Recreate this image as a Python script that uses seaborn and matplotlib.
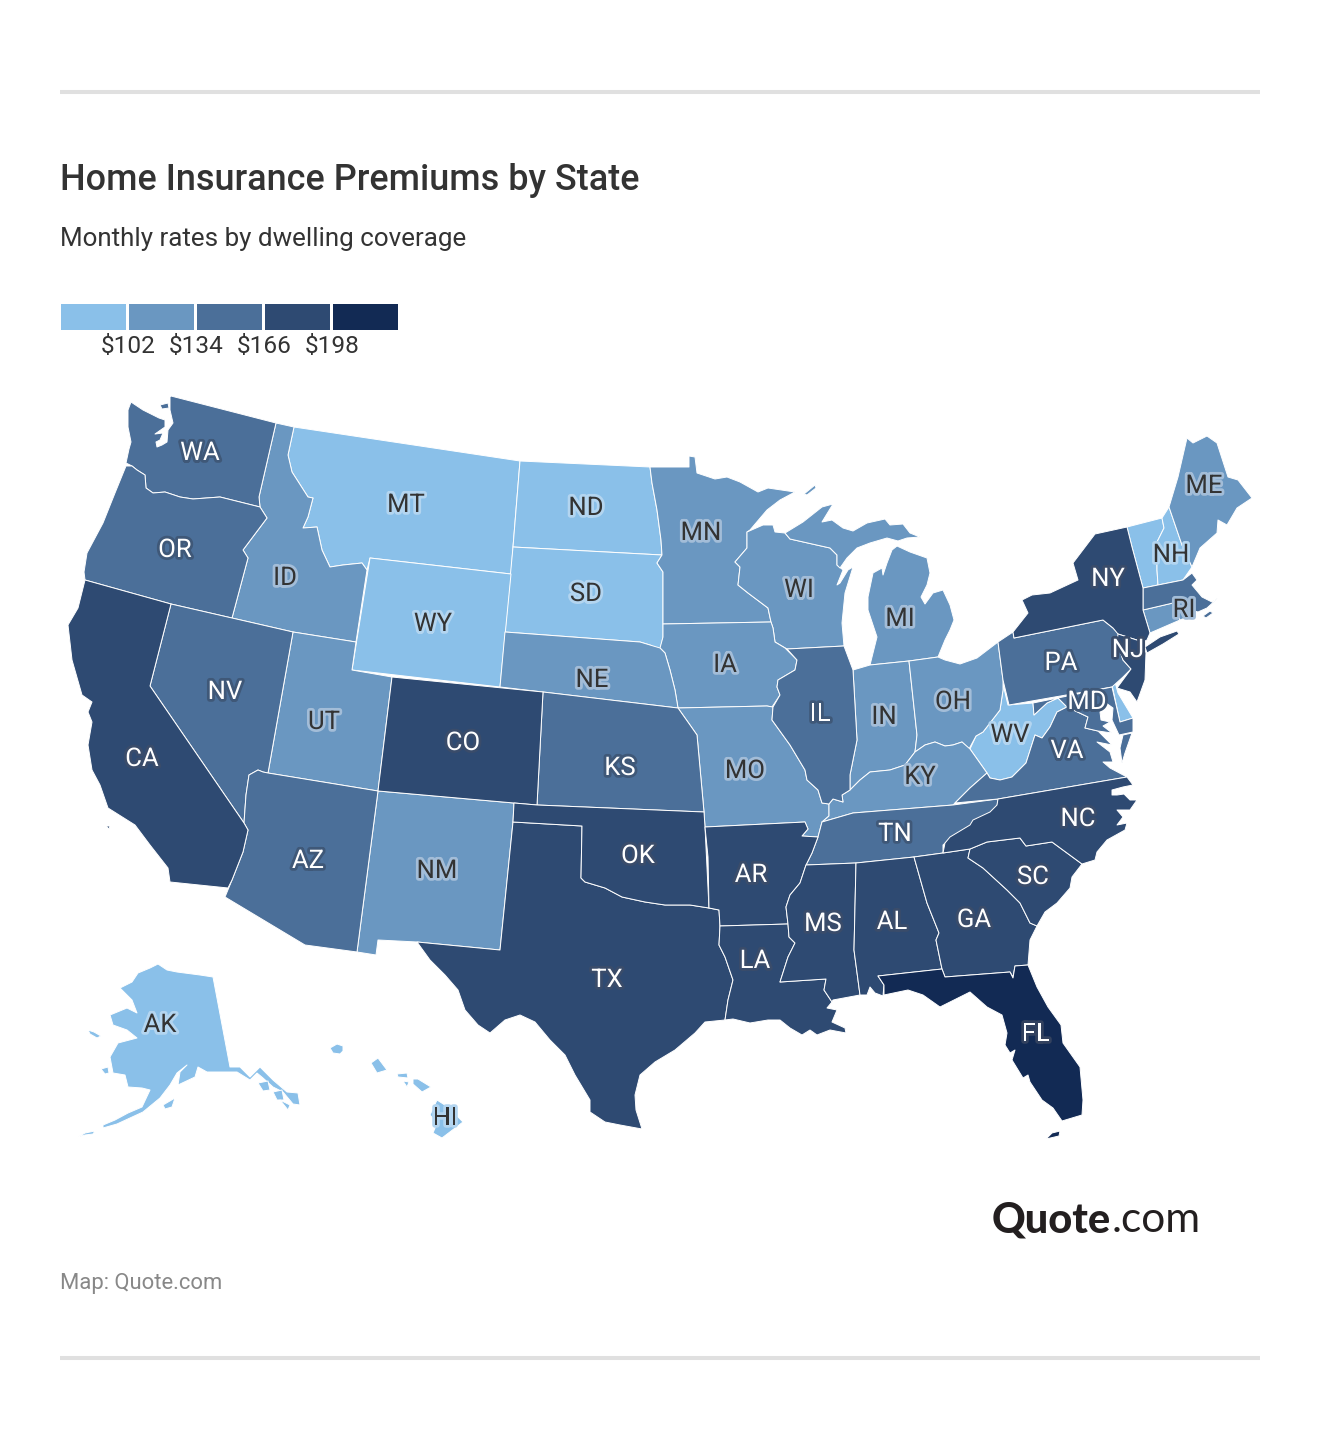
"""Home insurance premiums by state, drawn as a binned choropleth."""
import matplotlib
matplotlib.use("Agg")
import matplotlib.patheffects as pe
import matplotlib.pyplot as plt
import numpy as np
import seaborn as sns

TICK_LABELS = ["$102", "$134", "$166", "$198"]
BIN_COLORS = ["#8ac0e9", "#6a97c1", "#4b6f99", "#2e4a72", "#122a54"]

# premium bin per state, 0 is the cheapest
BIN_0 = ["MT", "ND", "SD", "WY", "VT", "NH", "WV", "DE", "AK", "HI"]
BIN_1 = ["ID", "MN", "WI", "MI", "IA", "NE", "MO", "IN", "OH", "KY", "UT", "NM", "ME", "CT", "RI"]
BIN_2 = ["WA", "OR", "NV", "AZ", "KS", "IL", "TN", "VA", "PA", "MA", "MD"]
BIN_3 = ["CA", "CO", "TX", "OK", "AR", "LA", "MS", "AL", "GA", "SC", "NC", "NY", "NJ"]
BIN_4 = ["FL"]

# state outlines
WA = [[(171,396),(276,423),(259,497),(260,507),(220,497),(193,499),(180,497),(165,492),(153,493),(146,488),(145,475),(137,470),(132,466),(126,463),(129,449),(131,442),(128,427),(128,410),(131,402),(143,410),(159,418),(165,420),(165,427),(155,434),(163,433),(160,440),(156,442),(157,447),(162,445),(167,442),(168,430),(173,423),(170,410),(170,397)],
      [(160,405),(168,403),(169,408),(162,409)]]
OR = [[(126,466),(132,466),(137,470),(145,475),(146,488),(153,493),(165,492),(180,497),(193,499),(220,497),(260,507),(267,518),(243,550),(248,558),(232,618),(171,604),(85,580),(84,572),(87,553),(103,523),(115,493)]]
CA = [[(85,580),(171,604),(150,686),(244,823),(248,830),(243,852),(232,880),(228,888),(170,882),(168,868),(150,845),(135,825),(108,808),(100,785),(92,770),(88,745),(92,722),(88,712),(92,702),(82,695),(72,660),(68,625),(78,608)],
      [(106,826),(110,826),(109,829)]]
NV = [[(171,604),(232,618),(293,632),(268,773),(263,772),(258,770),(249,775),(246,795),(244,823),(150,686)]]
AZ = [[(263,772),(268,773),(378,791),(357,952),(305,945),(225,897),(232,880),(243,852),(248,830),(244,823),(246,795),(249,775),(258,770)]]
UT = [[(293,632),(356,642),(352,670),(392,677),(378,791),(268,773)]]
ID = [[(276,423),(294,427),(288,455),(292,472),(308,497),(313,498),(308,517),(303,528),(317,527),(322,550),(330,567),(343,565),(362,563),(367,570),(356,642),(293,632),(232,618),(248,558),(243,550),(267,518),(260,507),(259,497)]]
MT = [[(294,427),(520,461),(513,547),(511,574),(370,558),(367,570),(362,563),(343,565),(330,567),(322,550),(317,527),(303,528),(308,517),(313,498),(308,497),(292,472),(288,455)]]
WY = [[(370,558),(511,574),(500,687),(352,670)]]
ND = [[(520,461),(650,467),(652,483),(657,510),(661,540),(662,555),(513,547)]]
SD = [[(513,547),(662,555),(657,563),(663,572),(663,624),(663,637),(660,650),(650,645),(640,642),(505,632)]]
NE = [[(505,632),(640,642),(650,645),(660,648),(665,653),(670,670),(675,690),(678,708),(543,692),(500,687)]]
KS = [[(543,692),(678,708),(690,725),(697,735),(704,812),(537,805)]]
CO = [[(392,677),(543,692),(537,805),(514,803),(378,791)]]
NM = [[(378,791),(514,803),(513,822),(500,950),(417,942),(378,940),(376,955),(357,952)]]
OK = [[(514,803),(537,805),(704,812),(705,827),(709,908),(690,905),(665,905),(645,902),(622,897),(605,888),(585,882),(581,878),(582,826),(513,822)]]
TX = [[(513,822),(582,826),(581,878),(585,882),(605,888),(622,897),(645,902),(665,905),(690,905),(709,908),(719,910),(720,926),(719,945),(725,957),(733,980),(728,1000),(725,1020),(705,1022),(695,1033),(675,1050),(655,1062),(640,1075),(635,1095),(636,1110),(642,1129),(620,1125),(605,1122),(590,1112),(590,1100),(575,1075),(565,1055),(550,1040),(535,1022),(520,1015),(505,1020),(490,1033),(478,1025),(465,1010),(458,990),(445,975),(430,960),(417,942),(500,950)]]
AR = [[(705,827),(805,822),(808,829),(802,836),(818,837),(812,853),(806,865),(800,883),(790,895),(786,907),(788,924),(720,926),(719,910),(709,908),(708,857)]]
LA = [[(720,926),(788,924),(789,937),(795,943),(788,957),(780,982),(826,979),(824,990),(832,1002),(827,1008),(837,1010),(832,1022),(845,1028),(846,1033),(830,1030),(817,1035),(810,1030),(802,1035),(790,1028),(780,1020),(768,1020),(750,1023),(733,1019),(725,1020),(728,1000),(733,980),(725,957),(719,945)]]
MS = [[(806,865),(856,863),(854,950),(860,995),(833,1000),(832,1002),(824,990),(826,979),(780,982),(788,957),(795,943),(789,937),(788,924),(786,907),(790,895),(800,883)]]
AL = [[(856,863),(914,857),(927,903),(939,933),(936,940),(942,969),(878,976),(884,985),(883,996),(875,993),(870,987),(867,995),(860,995),(854,950)]]
GA = [[(914,857),(943,853),(970,849),(968,858),(983,868),(1007,890),(1020,903),(1030,923),(1037,926),(1030,940),(1028,965),(1015,966),(1013,977),(1010,972),(945,977),(942,969),(936,940),(939,933),(927,903)]]
FL = [[(878,976),(942,969),(945,977),(1010,972),(1013,978),(1015,966),(1028,965),(1037,987),(1048,1007),(1061,1025),(1063,1043),(1080,1067),(1083,1100),(1082,1115),(1062,1121),(1053,1108),(1042,1100),(1030,1082),(1028,1075),(1023,1078),(1012,1060),(1015,1050),(1010,1053),(1005,1045),(1007,1033),(1002,1015),(987,1007),(970,992),(960,997),(940,1007),(923,995),(908,990),(884,995),(884,985)],
      [(1046,1139),(1052,1133),(1060,1131),(1059,1136)]]
SC = [[(970,849),(987,842),(1020,838),(1026,846),(1052,842),(1082,864),(1072,877),(1070,888),(1057,903),(1045,912),(1037,926),(1030,923),(1020,903),(1007,890),(983,868),(968,858)]]
NC = [[(998,799),(1127,777),(1133,785),(1123,787),(1112,790),(1112,795),(1117,795),(1124,794),(1130,800),(1137,800),(1130,810),(1117,810),(1123,817),(1117,825),(1127,823),(1125,830),(1107,840),(1097,852),(1095,860),(1082,864),(1052,842),(1026,846),(1020,838),(987,842),(970,849),(943,853),(945,843),(950,837),(970,825),(973,820),(990,812),(997,805)]]
TN = [[(822,822),(853,813),(953,805),(998,799),(997,807),(987,815),(972,825),(963,830),(952,837),(943,845),(943,853),(914,857),(856,863),(806,865),(812,853),(818,837)]]
KY = [[(822,822),(853,813),(953,805),(955,803),(970,788),(987,773),(970,749),(962,742),(953,745),(945,746),(935,742),(925,745),(915,752),(905,765),(890,770),(870,772),(860,780),(850,790),(842,795),(843,802),(833,799),(829,804),(829,816)]]
IN = [[(853,670),(870,665),(909,661),(917,735),(915,752),(905,765),(890,770),(870,772),(860,780),(850,790),(850,775),(857,740)]]
IL = [[(787,649),(844,646),(853,670),(857,740),(850,775),(850,790),(842,795),(843,802),(833,799),(829,804),(822,803),(818,790),(807,780),(805,770),(790,745),(772,720),(773,707),(780,695),(777,687),(778,680),(795,670),(797,660)]]
MO = [[(678,708),(767,706),(773,707),(772,720),(790,745),(805,770),(807,780),(818,790),(822,803),(829,804),(829,816),(822,822),(818,837),(802,836),(808,829),(805,822),(705,827),(704,812),(697,735),(690,725)]]
IA = [[(663,624),(771,622),(773,628),(775,642),(785,648),(797,660),(795,670),(778,680),(777,687),(780,695),(772,707),(767,706),(678,708),(675,690),(670,670),(665,653),(660,648),(663,637)]]
MN = [[(650,467),(689,467),(689,456),(695,457),(697,473),(715,479),(727,477),(740,482),(758,492),(768,488),(795,492),(780,500),(767,510),(750,530),(747,532),(747,548),(735,562),(740,567),(738,585),(748,593),(768,608),(771,622),(663,624),(663,572),(657,563),(662,555),(661,540),(657,510),(652,483)],
      [(804,494),(815,485),(816,488),(807,495)]]
WI = [[(747,532),(763,525),(773,525),(775,532),(785,533),(790,539),(830,548),(837,555),(837,565),(843,570),(837,585),(840,583),(848,570),(853,567),(845,593),(842,623),(844,646),(787,649),(775,642),(773,628),(771,622),(768,608),(748,593),(738,585),(740,567),(735,562),(747,548)]]
MI = [[(785,533),(803,522),(822,507),(833,504),(822,522),(832,520),(843,528),(853,531),(867,523),(885,519),(890,525),(903,524),(910,533),(920,537),(907,538),(898,541),(887,538),(870,543),(857,548),(847,558),(840,568),(837,565),(837,555),(830,548),(790,539)],
      [(897,546),(910,552),(927,558),(930,573),(927,585),(921,597),(925,604),(933,593),(943,590),(950,605),(954,620),(950,630),(945,640),(938,657),(909,661),(870,665),(877,637),(868,610),(868,597),(873,573),(882,568),(883,575),(887,563),(892,550)]]
OH = [[(909,661),(938,657),(945,660),(960,664),(977,658),(998,642),(1003,680),(1003,690),(1000,710),(983,732),(976,736),(969,749),(962,742),(953,745),(945,746),(935,742),(925,745),(915,752),(917,735)]]
PA = [[(998,642),(1013,632),(1014,638),(1103,620),(1113,628),(1120,635),(1117,642),(1123,660),(1131,669),(1123,677),(1112,687),(1009,705),(1003,680)]]
NY = [[(1013,632),(1028,613),(1022,600),(1032,595),(1050,593),(1078,580),(1073,563),(1095,534),(1127,527),(1132,547),(1143,588),(1143,610),(1150,633),(1147,640),(1143,642),(1118,634),(1113,628),(1103,620),(1014,638)],
      [(1145,647),(1160,637),(1177,631),(1179,634),(1163,644),(1147,653)]]
NJ = [[(1118,634),(1143,642),(1146,653),(1145,680),(1137,702),(1130,692),(1117,688),(1131,669),(1123,660),(1117,642)]]
VT = [[(1127,527),(1162,518),(1164,528),(1157,542),(1157,570),(1158,585),(1143,588),(1132,547)]]
NH = [[(1162,518),(1169,507),(1182,545),(1192,567),(1183,580),(1158,585),(1157,570),(1157,542),(1164,528)]]
ME = [[(1169,507),(1178,477),(1187,438),(1193,443),(1207,436),(1217,443),(1228,477),(1238,480),(1252,498),(1237,508),(1227,525),(1218,520),(1217,533),(1200,548),(1192,567),(1182,545)]]
MA = [[(1143,588),(1183,580),(1192,573),(1197,580),(1192,585),(1202,597),(1212,602),(1218,598),(1207,608),(1198,612),(1191,610),(1185,600),(1173,603),(1143,610)],
      [(1203,616),(1210,611),(1213,613),(1206,618)]]
CT = [[(1143,610),(1173,603),(1180,620),(1150,633)]]
RI = [[(1173,603),(1185,600),(1191,610),(1190,616),(1180,620)]]
DE = [[(1112,685),(1115,682),(1118,693),(1133,718),(1120,722)]]
MD = [[(1033,703),(1112,687),(1120,722),(1133,718),(1133,732),(1119,735),(1112,720),(1113,708),(1106,703),(1100,712),(1101,720),(1110,722),(1103,726),(1112,733),(1098,731),(1085,728),(1088,717),(1067,707),(1058,698),(1047,703),(1034,715)]]
WV = [[(1002,680),(1008,705),(1033,703),(1034,715),(1047,703),(1058,698),(1067,707),(1057,712),(1050,727),(1042,738),(1035,735),(1026,763),(1012,777),(1000,780),(990,778),(987,773),(970,749),(976,736),(983,732),(1000,710),(1003,690)]]
VA = [[(987,773),(990,778),(1000,780),(1012,777),(1026,763),(1035,735),(1042,738),(1050,727),(1057,712),(1067,707),(1088,717),(1085,728),(1098,731),(1112,745),(1097,742),(1110,752),(1113,762),(1103,762),(1110,768),(1127,777),(998,799),(955,803),(970,788)],
      [(1123,735),(1132,733),(1125,753),(1122,763),(1120,748)]]
AK = [[(158,964),(167,970),(177,972),(200,975),(213,977),(230,1067),(240,1067),(250,1077),(260,1067),(273,1080),(287,1092),(298,1093),(300,1105),(293,1104),(283,1092),(273,1087),(263,1078),(257,1073),(250,1080),(237,1072),(220,1072),(207,1072),(198,1067),(195,1077),(178,1085),(180,1072),(187,1065),(177,1073),(170,1085),(160,1098),(143,1112),(130,1118),(117,1124),(103,1128),(103,1125),(115,1120),(128,1113),(142,1107),(150,1090),(142,1088),(128,1087),(125,1075),(113,1073),(110,1057),(118,1043),(137,1038),(127,1030),(113,1025),(110,1015),(127,1008),(137,1013),(132,1000),(120,988),(132,982),(138,973),(150,968)],
      [(78,1137),(85,1133),(95,1131),(93,1134),(85,1135)],
      [(258,1083),(268,1081),(270,1090),(263,1091)],
      [(273,1092),(282,1090),(284,1100),(277,1100)],
      [(280,1100),(290,1105),(288,1110)],
      [(88,1030),(94,1032),(101,1036),(97,1038),(90,1034)],
      [(101,1069),(108,1067),(109,1073),(105,1074)],
      [(163,1105),(175,1098),(172,1107),(165,1109)]]
HI = [[(330,1048),(337,1044),(343,1046),(343,1051),(340,1054),(333,1053)],
      [(371,1063),(378,1058),(387,1070),(377,1073)],
      [(397,1074),(407,1073),(408,1078),(398,1077)],
      [(403,1081),(409,1082),(407,1087)],
      [(413,1079),(418,1079),(431,1087),(422,1092),(413,1084)],
      [(437,1100),(448,1107),(463,1122),(442,1138),(433,1133),(437,1123),(430,1115)]]

SHAPES = {k: v for k, v in globals().items() if len(k) == 2 and k.isupper()}

LABEL_POS = {
    "WA": (200, 453), "OR": (175, 550), "CA": (142, 759), "NV": (225, 692), "ID": (285, 578),
    "MT": (406, 505), "WY": (433, 624), "UT": (324, 722), "AZ": (308, 861), "CO": (463, 743),
    "NM": (437, 871), "ND": (586, 508), "SD": (586, 594), "NE": (592, 680), "KS": (620, 768),
    "OK": (638, 856), "TX": (607, 980), "MN": (701, 533), "IA": (725, 665), "MO": (745, 771),
    "AR": (751, 875), "LA": (755, 961), "WI": (799, 590), "IL": (820, 714), "MS": (823, 924),
    "AL": (892, 922), "TN": (895, 834), "KY": (920, 777), "IN": (884, 717), "MI": (900, 619),
    "OH": (953, 702), "GA": (974, 920), "SC": (1033, 877), "FL": (1036, 1034), "NC": (1078, 819),
    "VA": (1067, 751), "WV": (1010, 735), "PA": (1061, 663), "NY": (1108, 579), "NJ": (1128, 650),
    "MD": (1087, 702), "ME": (1204, 486), "NH": (1171, 555), "RI": (1184, 610), "AK": (160, 1025),
    "HI": (445, 1118),
}
HALO_LIGHT = ["#b3d5f0", "#a3bdd8"]
HALO_DARK = ["#3f5878", "#3a4c6a", "#33425f"]


def draw_states(ax, palette):
    for level, states in enumerate([BIN_0, BIN_1, BIN_2, BIN_3, BIN_4]):
        for code in states:
            for part in SHAPES[code]:
                xy = np.array(part)
                ax.fill(xy[:, 0], xy[:, 1], facecolor=palette[level], edgecolor="white",
                        linewidth=0.7, joinstyle="round", zorder=2)
            if code not in LABEL_POS:
                continue
            x, y = LABEL_POS[code]
            if level < 2:
                color, halo = "#333333", HALO_LIGHT[level]
            else:
                color, halo = "white", HALO_DARK[level - 2]
            ax.text(x, y, code, ha="center", va="center", fontsize=18.5, color=color, zorder=4,
                    path_effects=[pe.withStroke(linewidth=4, foreground=halo)])


def draw_legend(fig, palette):
    cax = fig.add_axes([59.3 / 1320, 1 - 330.7 / 1450, 340 / 1320, 28.4 / 1450])
    sns.heatmap(np.arange(len(palette)).reshape(1, -1), cmap=palette, cbar=False, ax=cax,
                linewidths=0.8, linecolor="white")
    cax.set_yticks([])
    cax.set_xticks(np.arange(1, len(palette)) + 0.015, TICK_LABELS, rotation=0, fontsize=17.6, color="#333333")
    cax.tick_params(axis="x", length=0, pad=3)
    for spine in cax.spines.values():
        spine.set_visible(False)


def main():
    sns.set_theme(style="white")
    plt.rcParams["font.family"] = ["Roboto", "DejaVu Sans"]
    palette = sns.color_palette(BIN_COLORS)

    fig = plt.figure(figsize=(13.2, 14.5), dpi=100, facecolor="white")
    ax = fig.add_axes([0, 0, 1, 1])
    ax.set_xlim(0, 1320)
    ax.set_ylim(1450, 0)
    ax.axis("off")

    for y in (92, 1358):
        ax.plot([60, 1260], [y, y], color="#e0e0e0", linewidth=2.9, solid_capstyle="butt")
    ax.text(60, 180, "Home Insurance Premiums by State", fontsize=25.9, fontweight="medium",
            color="#333333", va="center")
    ax.text(60, 239, "Monthly rates by dwelling coverage", fontsize=18.7, color="#333333", va="center")
    ax.text(60, 1284, "Map: Quote.com", fontsize=15.8, color="#888888", va="center")
    ax.text(1111, 1220, "Quote", fontsize=30, fontweight="black", family="Lato", color="#231f20",
            ha="right", va="center")
    ax.text(1112, 1220, ".com", fontsize=30.5, fontweight="regular", family="Lato", color="#231f20",
            ha="left", va="center")

    draw_states(ax, palette)
    draw_legend(fig, palette)
    fig.savefig("out.png", dpi=100)
    plt.close(fig)


if __name__ == "__main__":
    main()
